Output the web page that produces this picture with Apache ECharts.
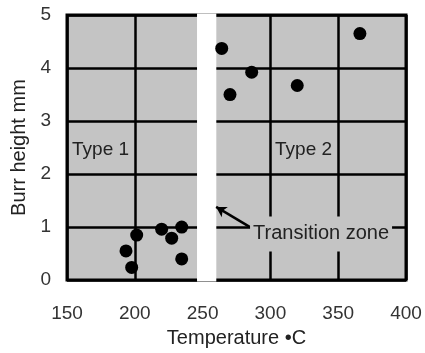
<!DOCTYPE html>
<html>
<head>
<meta charset="utf-8">
<script src="https://cdn.jsdelivr.net/npm/echarts@6/dist/echarts.min.js"></script>
<style>
  html, body { margin: 0; padding: 0; background: #fff; }
  #chart { width: 425px; height: 353px; }
</style>
</head>
<body>
<div id="chart"></div>
<script>
// measured points (temperature C, burr height mm)
var tempValues = [193.5, 197.7, 201.4, 219.8, 227.2, 234.6, 234.6, 264.1, 270.2, 286.2, 319.8, 366]
var burrValues = [0.55, 0.24, 0.85, 0.96, 0.79, 1.0, 0.40, 4.37, 3.50, 3.92, 3.67, 4.65]
var xTicks = [150, 200, 250, 300, 350, 400]
var yTicks = [0, 1, 2, 3, 4, 5]
// transition band (white gap) and annotations in data units
var bandRange = [247, 259]
var typeLabels = [
  { text: 'Type 1', x: 153.7, y: 2.46 },
  { text: 'Type 2', x: 303.4, y: 2.46 }
]
var zoneLabel = { text: 'Transition zone', x: 285, y: 0.87 }
var arrowFrom = [285, 1.0]
var arrowTo = [260, 1.38]

var font = "'Liberation Sans', Arial, sans-serif"
var myChart = echarts.init(document.getElementById('chart'))

var points = tempValues.map(function (t, i) { return [t, burrValues[i]] })

var markPoints = typeLabels.map(function (l) {
  return {
    coord: [l.x, l.y],
    label: { formatter: l.text }
  }
})
markPoints.push({
  coord: [zoneLabel.x, zoneLabel.y],
  label: {
    formatter: zoneLabel.text,
    fontSize: 20,
    backgroundColor: '#c4c4c4',
    padding: [7, 3, 7, 3],
    lineHeight: 21
  }
})

var option = {
  animation: false,
  backgroundColor: '#fff',
  grid: {
    left: 67, right: 19, top: 15, bottom: 66,
    show: true,
    backgroundColor: '#c4c4c4',
    borderColor: '#000',
    borderWidth: 3
  },
  xAxis: {
    type: 'value',
    min: xTicks[0],
    max: xTicks[xTicks.length - 1],
    interval: 50,
    name: 'Temperature •C',
    nameLocation: 'middle',
    nameGap: 44,
    nameTextStyle: { fontFamily: font, fontSize: 20, color: '#222' },
    axisLine: { show: false },
    axisTick: { show: false },
    axisLabel: { margin: 24, fontFamily: font, fontSize: 19, color: '#333' },
    splitLine: { show: true, lineStyle: { color: '#000', width: 2.5 } }
  },
  yAxis: {
    type: 'value',
    min: yTicks[0],
    max: yTicks[yTicks.length - 1],
    interval: 1,
    name: 'Burr height mm',
    nameLocation: 'middle',
    nameGap: 36,
    nameTextStyle: { fontFamily: font, fontSize: 20, color: '#222' },
    axisLine: { show: false },
    axisTick: { show: false },
    axisLabel: { margin: 16, fontFamily: font, fontSize: 19, color: '#333' },
    splitLine: { show: true, lineStyle: { color: '#000', width: 2.5 } }
  },
  series: [
    {
      type: 'scatter',
      data: points,
      symbolSize: 13,
      itemStyle: { color: '#000', opacity: 1 },
      markArea: {
        silent: true,
        itemStyle: { color: '#fff', borderColor: '#fff', borderWidth: 3 },
        data: [[{ xAxis: bandRange[0] }, { xAxis: bandRange[1] }]]
      },
      markLine: {
        silent: true,
        symbol: ['none', 'arrow'],
        symbolSize: [9, 10],
        lineStyle: { color: '#000', width: 2.5, type: 'solid' },
        label: { show: false },
        data: [[{ coord: arrowFrom }, { coord: arrowTo }]]
      },
      markPoint: {
        silent: true,
        symbol: 'circle',
        symbolSize: 0,
        label: {
          show: true,
          position: 'right',
          distance: 0,
          fontFamily: font,
          fontSize: 19,
          color: '#222'
        },
        data: markPoints
      }
    }
  ]
}
myChart.setOption(option)
</script>
</body>
</html>
